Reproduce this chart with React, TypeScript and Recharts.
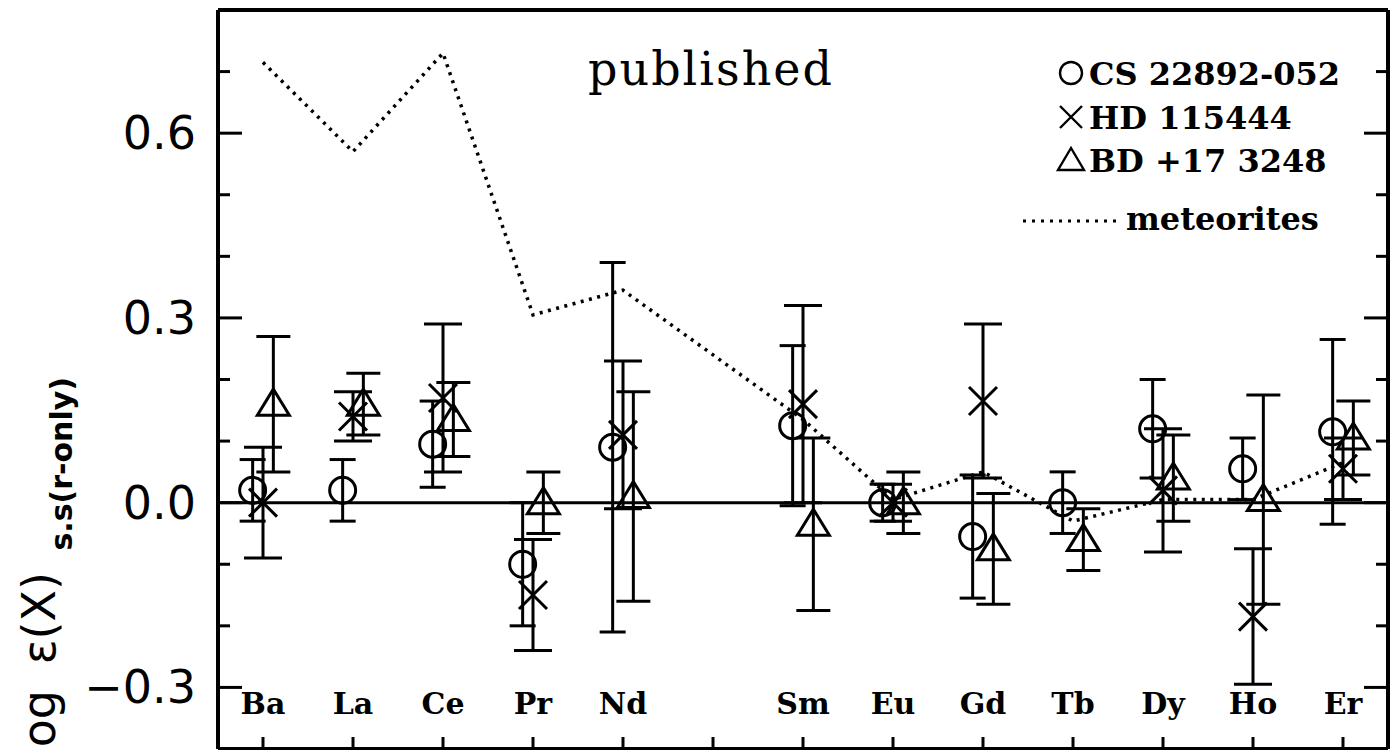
import React from 'react';
import { ComposedChart, Scatter, Line, XAxis, YAxis, ErrorBar, ReferenceLine } from 'recharts';

// element symbols and their atomic numbers (Pm is not measured)
const elements = ['Ba', 'La', 'Ce', 'Pr', 'Nd', 'Sm', 'Eu', 'Gd', 'Tb', 'Dy', 'Ho', 'Er'];
const atomicNumbers = [56, 57, 58, 59, 60, 62, 63, 64, 65, 66, 67, 68];

// log eps(X) relative to solar-system r-only
const cs22892 = [0.02, 0.02, 0.095, -0.1, 0.09, 0.125, 0.0, -0.055, 0.0, 0.12, 0.055, 0.115];
const cs22892Err = [0.05, 0.05, 0.07, 0.1, 0.3, 0.13, 0.03, 0.1, 0.05, 0.08, 0.05, 0.15];

const hd115444 = [0.0, 0.14, 0.17, -0.15, 0.11, 0.16, 0.0, 0.165, null, 0.02, -0.185, 0.055];
const hd115444Err = [0.09, 0.04, 0.12, 0.09, 0.12, 0.16, 0.03, 0.125, null, 0.1, 0.11, 0.05];

const bd173248 = [0.16, 0.16, 0.135, 0.0, 0.01, -0.035, 0.0, -0.075, -0.06, 0.04, 0.005, 0.105];
const bd173248Err = [0.11, 0.05, 0.06, 0.05, 0.17, 0.14, 0.05, 0.09, 0.05, 0.07, 0.17, 0.06];

const meteorites = [0.715, 0.57, 0.73, 0.305, 0.345, 0.135, 0.005, 0.05, -0.03, 0.005, 0.005, 0.065];

const seriesNames = ['CS 22892-052', 'HD 115444', 'BD +17 3248', 'meteorites'];

const xTicks = [56, 57, 58, 59, 60, 61, 62, 63, 64, 65, 66, 67, 68];
const yTicks = [-0.3, -0.2, -0.1, 0, 0.1, 0.2, 0.3, 0.4, 0.5, 0.6, 0.7];
const yLabelled = [-0.3, 0, 0.3, 0.6];

const W = 1393;
const H = 800;
const PLOT_LEFT = 218;
const PLOT_RIGHT = 1388;
const PLOT_TOP = 10;
const PLOT_BOTTOM = 749;
const SHIFT = 0.115; // horizontal offset of the three stars around each element

const build = (vals: (number | null)[], errs: (number | null)[], dx: number) =>
  vals
    .map((v, i) => ({ x: atomicNumbers[i] + dx, y: v, err: errs[i] }))
    .filter((d) => d.y !== null);

const circleData = build(cs22892, cs22892Err, -SHIFT);
const crossData = build(hd115444, hd115444Err, 0);
const triData = build(bd173248, bd173248Err, SHIFT);
const meteorData = meteorites.map((v, i) => ({ x: atomicNumbers[i], y: v }));

const ink = '#000';

const CircleMark = (p: any) => (
  <circle cx={p.cx} cy={p.cy} r={13} fill="none" stroke={ink} strokeWidth={3} />
);
const CrossMark = (p: any) => (
  <path
    d={`M${p.cx - 14},${p.cy - 14}L${p.cx + 14},${p.cy + 14}M${p.cx - 14},${p.cy + 14}L${p.cx + 14},${p.cy - 14}`}
    stroke={ink}
    strokeWidth={3}
    fill="none"
  />
);
const TriMark = (p: any) => (
  <path
    d={`M${p.cx},${p.cy - 15}L${p.cx - 16},${p.cy + 11}L${p.cx + 16},${p.cy + 11}Z`}
    stroke={ink}
    strokeWidth={3}
    fill="none"
  />
);

const BottomTick = (props: any) => {
  const { x, payload } = props;
  const idx = atomicNumbers.indexOf(payload.value);
  return (
    <g>
      <line x1={x} x2={x} y1={PLOT_BOTTOM} y2={PLOT_BOTTOM - 12} stroke={ink} strokeWidth={3} />
      {idx >= 0 && (
        <text x={x} y={714} textAnchor="middle" fontFamily="DejaVu Serif" fontWeight="bold" fontSize={30} fill={ink}>
          {elements[idx]}
        </text>
      )}
    </g>
  );
};

const TopTick = (props: any) => {
  const { x } = props;
  return <line x1={x} x2={x} y1={PLOT_TOP} y2={PLOT_TOP + 12} stroke={ink} strokeWidth={3} />;
};

const fmt = (v: number) => (v < 0 ? '\u2212' + Math.abs(v).toFixed(1) : v.toFixed(1));
const isMajor = (v: number) => yLabelled.some((m) => Math.abs(m - v) < 1e-6);

const LeftTick = (props: any) => {
  const { y, payload } = props;
  const major = isMajor(payload.value);
  return (
    <g>
      <line x1={PLOT_LEFT} x2={PLOT_LEFT + (major ? 24 : 12)} y1={y} y2={y} stroke={ink} strokeWidth={3} />
      {major && (
        <text x={196} y={y + 16} textAnchor="end" fontFamily="DejaVu Sans" fontSize={46} fill={ink}>
          {fmt(payload.value)}
        </text>
      )}
    </g>
  );
};

const RightTick = (props: any) => {
  const { y, payload } = props;
  const major = isMajor(payload.value);
  return <line x1={PLOT_RIGHT} x2={PLOT_RIGHT - (major ? 24 : 12)} y1={y} y2={y} stroke={ink} strokeWidth={3} />;
};

const frame = { stroke: ink, strokeWidth: 4 };

const Overlay = () => (
  <svg width={W} height={H} style={{ position: 'absolute', left: 0, top: 0, pointerEvents: 'none' }}>
    <text x={711} y={85} textAnchor="middle" fontFamily="DejaVu Serif" fontSize={46} letterSpacing={2} fill={ink}>
      published
    </text>
    <g fontFamily="DejaVu Serif" fontWeight="bold" fontSize={32} fill={ink}>
      <circle cx={1071} cy={73} r={11} fill="none" stroke={ink} strokeWidth={2.4} />
      <text x={1089} y={85}>{seriesNames[0]}</text>
      <path d="M1060,106L1082,128M1060,128L1082,106" stroke={ink} strokeWidth={2.4} />
      <text x={1089} y={129}>{seriesNames[1]}</text>
      <path d="M1071,148L1058,170L1084,170Z" fill="none" stroke={ink} strokeWidth={2.4} />
      <text x={1089} y={172}>{seriesNames[2]}</text>
      <line x1={1023} x2={1121} y1={221} y2={221} stroke={ink} strokeWidth={3} strokeDasharray="3 6" />
      <text x={1126} y={230}>{seriesNames[3]}</text>
    </g>
    <text transform="translate(55,0) rotate(-90)" textAnchor="end" fontFamily="DejaVu Sans" fill={ink}>
      <tspan x={-690} y={0} fontSize={46}>log</tspan>
      <tspan x={-572} y={0} fontSize={46}>ε(X)</tspan>
      <tspan x={-377} y={17} fontSize={30} fontWeight="bold">s.s(r-only)</tspan>
    </text>
  </svg>
);

export default function App() {
  return (
    <div style={{ position: 'absolute', left: 0, top: 0, width: W, height: 750, overflow: 'hidden', background: '#fff' }}>
      <ComposedChart
        width={W}
        height={H}
        margin={{ top: PLOT_TOP - 1, right: W - PLOT_RIGHT - 1, bottom: H - PLOT_BOTTOM - 1, left: PLOT_LEFT - 1 }}
      >
        <XAxis
          xAxisId="b"
          dataKey="x"
          type="number"
          domain={[55.5, 68.5]}
          ticks={xTicks}
          interval={0}
          allowDataOverflow
          height={1}
          axisLine={frame}
          tickLine={false}
          tick={BottomTick}
        />
        <XAxis
          xAxisId="t"
          orientation="top"
          type="number"
          domain={[55.5, 68.5]}
          ticks={xTicks}
          interval={0}
          allowDataOverflow
          height={1}
          axisLine={frame}
          tickLine={false}
          tick={TopTick}
        />
        <YAxis
          yAxisId="l"
          dataKey="y"
          type="number"
          domain={[-0.4, 0.8]}
          ticks={yTicks}
          interval={0}
          allowDataOverflow
          width={1}
          axisLine={frame}
          tickLine={false}
          tick={LeftTick}
        />
        <YAxis
          yAxisId="r"
          orientation="right"
          type="number"
          domain={[-0.4, 0.8]}
          ticks={yTicks}
          interval={0}
          allowDataOverflow
          width={1}
          axisLine={frame}
          tickLine={false}
          tick={RightTick}
        />
        <ReferenceLine xAxisId="b" yAxisId="l" y={0} stroke={ink} strokeWidth={3} />
        <Line
          xAxisId="b"
          yAxisId="l"
          data={meteorData}
          dataKey="y"
          type="linear"
          stroke={ink}
          strokeWidth={3.5}
          strokeDasharray="3 5.5"
          dot={false}
          activeDot={false}
          isAnimationActive={false}
        />
        <Scatter xAxisId="b" yAxisId="l" name={seriesNames[0]} data={circleData} dataKey="y" shape={CircleMark} isAnimationActive={false}>
          <ErrorBar dataKey="err" direction="y" width={13} stroke={ink} strokeWidth={3} />
        </Scatter>
        <Scatter xAxisId="b" yAxisId="l" name={seriesNames[1]} data={crossData} dataKey="y" shape={CrossMark} isAnimationActive={false}>
          <ErrorBar dataKey="err" direction="y" width={19} stroke={ink} strokeWidth={3} />
        </Scatter>
        <Scatter xAxisId="b" yAxisId="l" name={seriesNames[2]} data={triData} dataKey="y" shape={TriMark} isAnimationActive={false}>
          <ErrorBar dataKey="err" direction="y" width={17} stroke={ink} strokeWidth={3} />
        </Scatter>
      </ComposedChart>
      <Overlay />
    </div>
  );
}
